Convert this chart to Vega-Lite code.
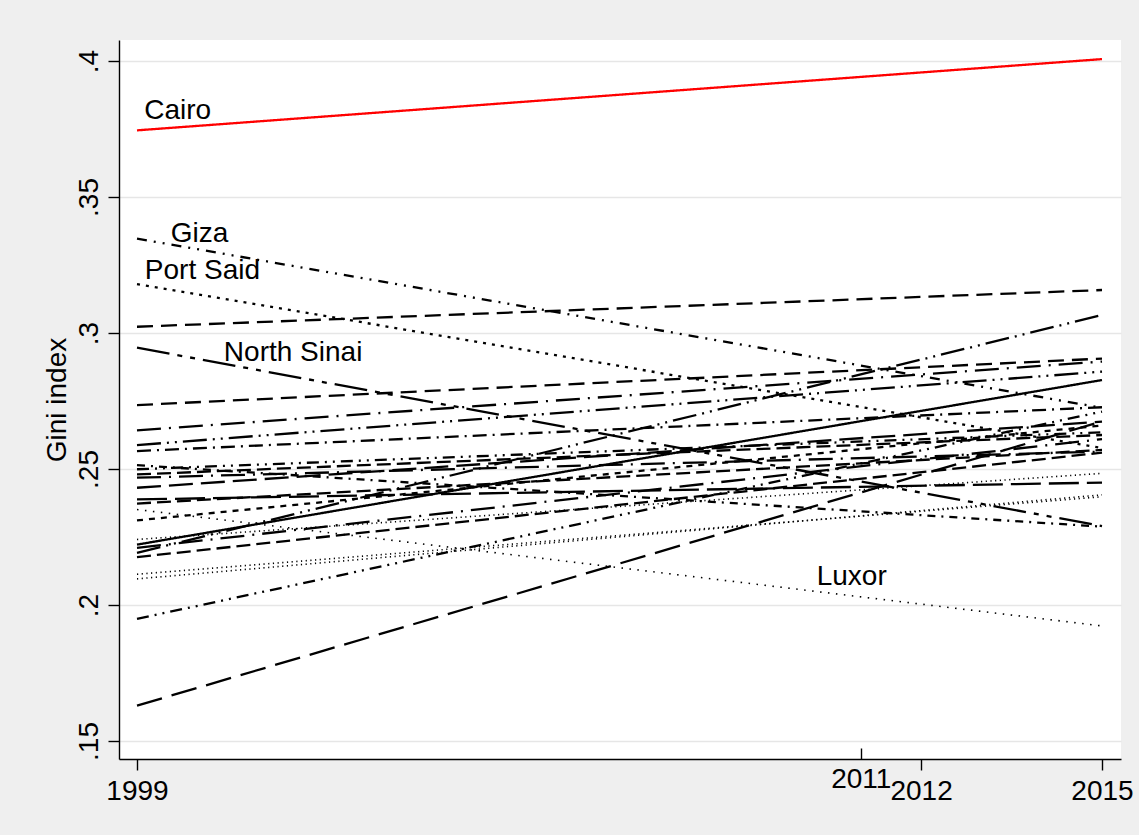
{
  "$schema": "https://vega.github.io/schema/vega-lite/v6.json",
  "width": 1002,
  "height": 719,
  "autosize": {"type": "none"},
  "padding": {"left": 119, "top": 40, "right": 18, "bottom": 76},
  "background": "#efefef",
  "config": {
    "view": {"fill": "white", "stroke": null},
    "font": "Liberation Sans",
    "axis": {
      "domainColor": "black",
      "domainWidth": 1.4,
      "tickColor": "black",
      "tickWidth": 1.4,
      "labelColor": "black",
      "labelFont": "Liberation Sans",
      "labelFontSize": 28,
      "titleColor": "black",
      "titleFont": "Liberation Sans",
      "titleFontSize": 28,
      "titleFontWeight": "normal"
    }
  },
  "datasets": {
    "gini": [
      {"region": "Alexandria", "year": 1999, "gini": 0.3023}, {"region": "Alexandria", "year": 2015, "gini": 0.3158},
      {"region": "Giza", "year": 1999, "gini": 0.3347}, {"region": "Giza", "year": 2015, "gini": 0.2725},
      {"region": "Port Said", "year": 1999, "gini": 0.3180}, {"region": "Port Said", "year": 2015, "gini": 0.2577},
      {"region": "North Sinai", "year": 1999, "gini": 0.2946}, {"region": "North Sinai", "year": 2015, "gini": 0.2290},
      {"region": "Suez", "year": 1999, "gini": 0.2735}, {"region": "Suez", "year": 2015, "gini": 0.2906},
      {"region": "Damietta", "year": 1999, "gini": 0.2642}, {"region": "Damietta", "year": 2015, "gini": 0.2895},
      {"region": "Ismailia", "year": 1999, "gini": 0.2588}, {"region": "Ismailia", "year": 2015, "gini": 0.2858},
      {"region": "Red Sea", "year": 1999, "gini": 0.2566}, {"region": "Red Sea", "year": 2015, "gini": 0.2727},
      {"region": "Dakahlia", "year": 1999, "gini": 0.2514}, {"region": "Dakahlia", "year": 2015, "gini": 0.2288},
      {"region": "Sharkia", "year": 1999, "gini": 0.2499}, {"region": "Sharkia", "year": 2015, "gini": 0.2635},
      {"region": "Qalyubia", "year": 1999, "gini": 0.2480}, {"region": "Qalyubia", "year": 2015, "gini": 0.2625},
      {"region": "Gharbia", "year": 1999, "gini": 0.2468}, {"region": "Gharbia", "year": 2015, "gini": 0.2564},
      {"region": "Monufia", "year": 1999, "gini": 0.2431}, {"region": "Monufia", "year": 2015, "gini": 0.2674},
      {"region": "Kafr El Sheikh", "year": 1999, "gini": 0.2388}, {"region": "Kafr El Sheikh", "year": 2015, "gini": 0.2450},
      {"region": "Beheira", "year": 1999, "gini": 0.2373}, {"region": "Beheira", "year": 2015, "gini": 0.2570},
      {"region": "Luxor", "year": 1999, "gini": 0.2351}, {"region": "Luxor", "year": 2015, "gini": 0.1923},
      {"region": "Beni Suef", "year": 1999, "gini": 0.2311}, {"region": "Beni Suef", "year": 2015, "gini": 0.2660},
      {"region": "Fayoum", "year": 1999, "gini": 0.2241}, {"region": "Fayoum", "year": 2015, "gini": 0.2484},
      {"region": "Minya", "year": 1999, "gini": 0.2222}, {"region": "Minya", "year": 2015, "gini": 0.2827},
      {"region": "Asyut", "year": 1999, "gini": 0.2210}, {"region": "Asyut", "year": 2015, "gini": 0.2610},
      {"region": "Sohag", "year": 1999, "gini": 0.2192}, {"region": "Sohag", "year": 2015, "gini": 0.3066},
      {"region": "Qena", "year": 1999, "gini": 0.2176}, {"region": "Qena", "year": 2015, "gini": 0.2560},
      {"region": "Aswan", "year": 1999, "gini": 0.2113}, {"region": "Aswan", "year": 2015, "gini": 0.2398},
      {"region": "New Valley", "year": 1999, "gini": 0.2096}, {"region": "New Valley", "year": 2015, "gini": 0.2405},
      {"region": "Matrouh", "year": 1999, "gini": 0.1949}, {"region": "Matrouh", "year": 2015, "gini": 0.2711},
      {"region": "South Sinai", "year": 1999, "gini": 0.1630}, {"region": "South Sinai", "year": 2015, "gini": 0.2675},
      {"region": "Cairo", "year": 1999, "gini": 0.3745}, {"region": "Cairo", "year": 2015, "gini": 0.4007}
    ],
    "labels": [
      {"label": "Cairo", "year": 1999.12, "gini": 0.3787},
      {"label": "Giza", "year": 1999.56, "gini": 0.3335},
      {"label": "Port Said", "year": 1999.13, "gini": 0.3199},
      {"label": "North Sinai", "year": 2000.44, "gini": 0.2897},
      {"label": "Luxor", "year": 2010.27, "gini": 0.2074}
    ]
  },
  "layer": [
    {
      "data": {"name": "gini"},
      "mark": {"type": "line", "strokeCap": "butt", "clip": true},
      "encoding": {
        "x": {
          "field": "year",
          "type": "quantitative",
          "scale": {"domain": [1998.7016, 2015.315], "nice": false, "zero": false},
          "axis": {
            "title": null,
            "values": [1999, 2011, 2012, 2015],
            "format": "d",
            "grid": false,
            "labelAngle": 0,
            "labelFlush": false,
            "labelOverlap": false,
            "tickSize": {"expr": "datum.value == 2011 ? -11 : 11"},
            "labelPadding": {"expr": "datum.value == 2011 ? 17 : 7"}
          }
        },
        "y": {
          "field": "gini",
          "type": "quantitative",
          "scale": {"domain": [0.14338, 0.40772], "nice": false, "zero": false},
          "axis": {
            "title": "Gini index",
            "titlePadding": 4,
            "values": [0.15, 0.2, 0.25, 0.3, 0.35, 0.4],
            "labelExpr": "slice(format(datum.value, '.2~f'), 1)",
            "labelAngle": -90,
            "labelAlign": "center",
            "labelBaseline": "alphabetic",
            "labelPadding": 11,
            "tickSize": 11,
            "grid": true,
            "gridColor": "#e6e6e6",
            "gridWidth": 1.7
          }
        },
        "strokeDash": {
          "field": "region",
          "type": "nominal",
          "legend": null,
          "scale": {
            "domain": ["Alexandria", "Giza", "Port Said", "North Sinai", "Suez", "Damietta", "Ismailia", "Red Sea", "Dakahlia", "Sharkia", "Qalyubia", "Gharbia", "Monufia", "Kafr El Sheikh", "Beheira", "Luxor", "Beni Suef", "Fayoum", "Minya", "Asyut", "Sohag", "Qena", "Aswan", "New Valley", "Matrouh", "South Sinai", "Cairo"],
            "range": [
              [16, 8],
              [10, 7, 2, 7, 2, 7],
              [3, 6],
              [33, 8, 5, 8, 5, 8],
              [16, 8],
              [24, 8, 2, 8],
              [24, 6, 2, 6, 2, 6],
              [14, 6, 2, 6],
              [8, 6, 2, 6],
              [12, 6, 2, 6, 2, 6],
              [14, 6],
              [24, 8, 2, 8],
              [24, 8],
              [30, 8],
              [14, 6],
              [1.5, 6.5],
              [6, 6],
              [1.2, 3.5],
              [1, 0],
              [24, 8, 2, 8],
              [24, 6, 2, 6, 2, 6],
              [14, 6],
              [1.2, 3.5],
              [1.2, 3.5],
              [12, 6, 2, 6, 2, 6],
              [26, 10],
              [1, 0]
            ]
          }
        },
        "color": {
          "condition": {"test": "datum.region === 'Cairo'", "value": "#ff0000"},
          "value": "#000000"
        },
        "strokeWidth": {
          "condition": {"test": "indexof(['Luxor', 'Fayoum', 'Aswan', 'New Valley'], datum.region) >= 0", "value": 1.6},
          "value": 2.3
        }
      }
    },
    {
      "data": {"name": "labels"},
      "mark": {"type": "text", "align": "left", "baseline": "alphabetic", "fontSize": 28, "font": "Liberation Sans", "color": "black"},
      "encoding": {
        "x": {"field": "year", "type": "quantitative"},
        "y": {"field": "gini", "type": "quantitative"},
        "text": {"field": "label"}
      }
    }
  ]
}
